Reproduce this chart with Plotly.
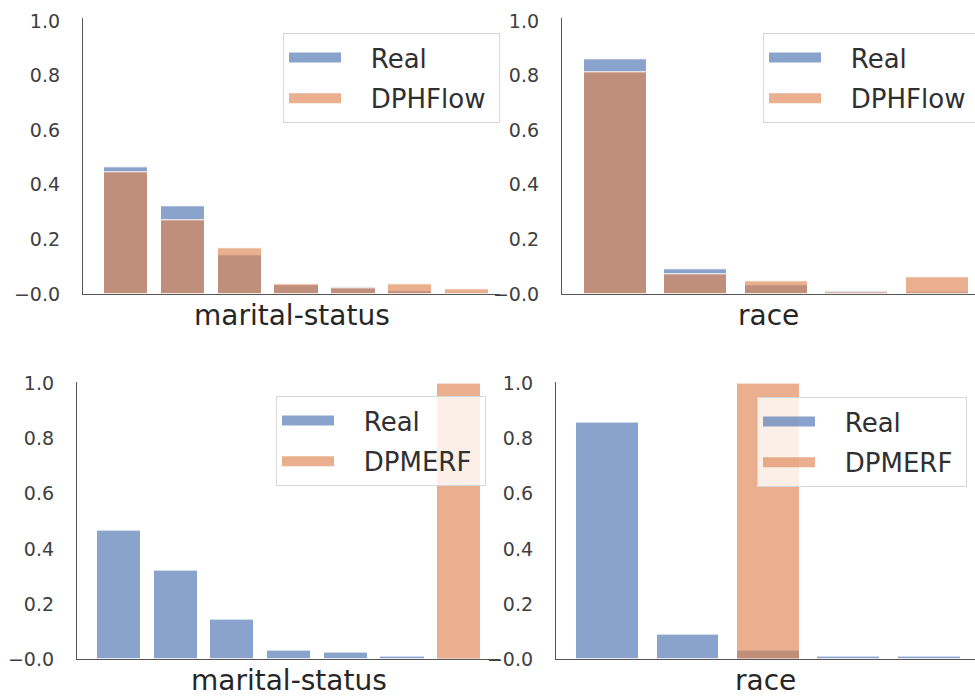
import plotly.graph_objects as go

# ---- data ----
marital_idx = [0, 1, 2, 3, 4, 5, 6]
race_idx = [0, 1, 2, 3, 4]

marital_real = [0.466, 0.322, 0.143, 0.032, 0.024, 0.009, 0.003]
marital_dphflow = [0.446, 0.271, 0.167, 0.035, 0.021, 0.037, 0.019]
marital_dpmerf = [0.0, 0.0, 0.0, 0.0, 0.0, 0.0, 1.0]

race_real = [0.858, 0.091, 0.031, 0.009, 0.008]
race_dphflow = [0.814, 0.072, 0.045, 0.008, 0.060]
race_dpmerf = [0.0, 0.0, 1.0, 0.0, 0.0]

ytick_vals = [0.0, 0.2, 0.4, 0.6, 0.8, 1.0]
ytick_text = ["\u22120.0", "0.2", "0.4", "0.6", "0.8", "1.0"]

BLUE = "rgba(76,114,176,0.65)"
ORANGE = "rgba(221,132,82,0.65)"
FONT = "DejaVu Sans"
W, H = 975, 697
GAP = "\u00a0\u00a0\u00a0"
TAIL = "\u00a0"

panels = [
    (marital_idx, marital_real, marital_dphflow, "DPHFlow", "x", "y", "legend", "marital-status"),
    (race_idx, race_real, race_dphflow, "DPHFlow", "x2", "y2", "legend2", "race"),
    (marital_idx, marital_real, marital_dpmerf, "DPMERF", "x3", "y3", "legend3", "marital-status"),
    (race_idx, race_real, race_dpmerf, "DPMERF", "x4", "y4", "legend4", "race"),
]

fig = go.Figure()
for xs, real, synth, name, xa, ya, lg, title in panels:
    fig.add_trace(go.Bar(x=xs, y=real, width=0.78, marker=dict(color=BLUE, line=dict(color="white", width=1)),
                         xaxis=xa, yaxis=ya, showlegend=False, name="Real"))
    fig.add_trace(go.Bar(x=xs, y=synth, width=0.78, marker=dict(color=ORANGE, line=dict(color="white", width=1)),
                         xaxis=xa, yaxis=ya, showlegend=False, name=name))
    fig.add_trace(go.Scatter(x=[None], y=[None], mode="lines", line=dict(color=BLUE, width=16),
                             xaxis=xa, yaxis=ya, legend=lg, name=GAP + "Real", legendgroup=lg + "a"))
    fig.add_trace(go.Scatter(x=[None], y=[None], mode="lines", line=dict(color=ORANGE, width=16),
                             xaxis=xa, yaxis=ya, legend=lg, name=GAP + name + TAIL, legendgroup=lg + "b"))

def px_x(p):
    return p / W

def px_y(p):
    return 1 - p / H

xdomains = [
    [px_x(83), 500 / W],
    [px_x(562), 1.0],
    [px_x(77), 500 / W],
    [px_x(556), 1.0],
]
ydomains = [
    [px_y(294), px_y(18.3)],
    [px_y(294), px_y(18.3)],
    [px_y(659.3), px_y(381.6)],
    [px_y(659.3), px_y(381.6)],
]
xranges = [[-0.76, 6.58], [-0.66, 4.47], [-0.74, 6.72], [-0.64, 4.57]]
yranges = [[0, 1.01], [0, 1.01], [0, 1.006], [0, 1.006]]

axis_color = "#555555"
layout = dict(
    width=W, height=H, margin=dict(l=0, r=0, t=0, b=0, autoexpand=False),
    paper_bgcolor="white", plot_bgcolor="white",
    barmode="overlay", bargap=0,
    font=dict(family=FONT, color="#333333"),
)
annotations = []
legend_pos = [(283, 33), (763, 33), (276, 396), (757, 397)]
for i in range(4):
    sx = "" if i == 0 else str(i + 1)
    layout["xaxis" + sx] = dict(domain=xdomains[i], range=xranges[i], showticklabels=False, ticks="",
                                showgrid=False, zeroline=False, showline=True, linecolor=axis_color,
                                linewidth=1.3, anchor="y" + sx, fixedrange=True, automargin=False)
    layout["yaxis" + sx] = dict(domain=ydomains[i], range=yranges[i], tickvals=ytick_vals, ticktext=ytick_text,
                                ticks="", showgrid=False, zeroline=False, showline=True, linecolor=axis_color,
                                linewidth=1.3, anchor="x" + sx, ticklabelstandoff=18, automargin=False,
                                tickfont=dict(family=FONT, size=19, color="#404040"), fixedrange=True)
    lx, ly = legend_pos[i]
    layout["legend" + sx] = dict(x=lx / W, y=1 - ly / H, xanchor="left", yanchor="top",
                                 bgcolor="rgba(255,255,255,0.8)", bordercolor="#d6d6d6", borderwidth=1,
                                 font=dict(family=FONT, size=26, color="#303030"),
                                 tracegroupgap=4, itemwidth=52)
    annotations.append(dict(text=panels[i][7], xref="x" + sx + " domain", yref="y" + sx + " domain",
                            x=0.5, y=0, xanchor="center", yanchor="top", yshift=-3, showarrow=False,
                            font=dict(family=FONT, size=28, color="#262626")))
layout["annotations"] = annotations
fig.update_layout(**layout)

fig.write_html("out.html")
